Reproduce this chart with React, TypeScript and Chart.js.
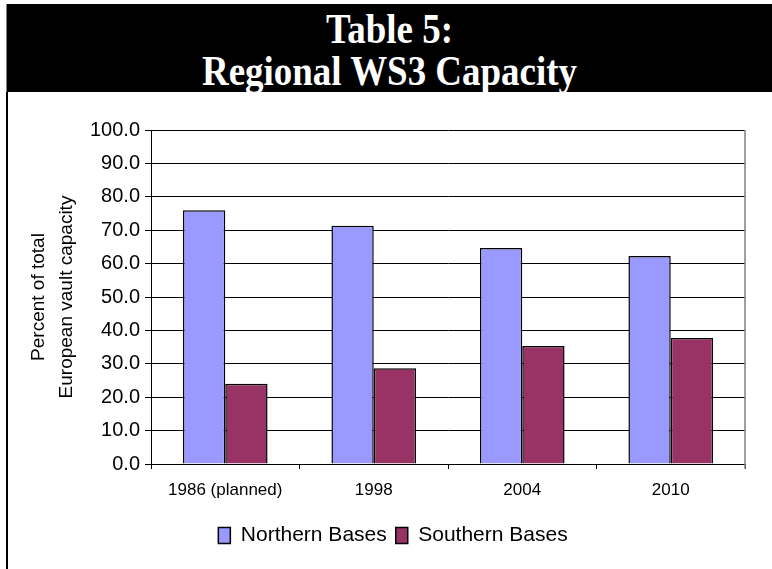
import React, { useEffect, useRef } from "react";
import { Chart, registerables } from "chart.js";

Chart.register(...registerables);

const categories = ["1986 (planned)", "1998", "2004", "2010"];
const northernBases = [76.0, 71.3, 64.7, 62.3];
const southernBases = [24.0, 28.7, 35.3, 37.7];
const seriesNames = ["Northern Bases", "Southern Bases"];
const titleLines = ["Table 5:", "Regional WS3 Capacity"];
const yTitleLines = ["Percent of total", "European vault capacity"];

const rightBorder = {
  id: "rightBorder",
  afterDatasetsDraw(chart: any) {
    const { ctx, chartArea } = chart;
    ctx.save();
    ctx.strokeStyle = "#808080";
    ctx.lineWidth = 1.5;
    ctx.beginPath();
    ctx.moveTo(chartArea.right, chartArea.top);
    ctx.lineTo(chartArea.right, chartArea.bottom + 5);
    ctx.stroke();
    ctx.restore();
  },
};

export default function App() {
  const ref = useRef<HTMLCanvasElement | null>(null);

  useEffect(() => {
    if (!ref.current) return;
    const font = "'Liberation Sans', Arial, sans-serif";
    const chart = new Chart(ref.current, {
      type: "bar",
      data: {
        labels: categories,
        datasets: [
          {
            label: seriesNames[0],
            data: northernBases,
            backgroundColor: "#9999FF",
            borderColor: "#000000",
            borderWidth: 1.5,
            categoryPercentage: 0.57,
            barPercentage: 1.0,
          },
          {
            label: seriesNames[1],
            data: southernBases,
            backgroundColor: "#993366",
            borderColor: "#000000",
            borderWidth: 1.5,
            categoryPercentage: 0.57,
            barPercentage: 1.0,
          },
        ],
      },
      options: {
        animation: false,
        responsive: true,
        maintainAspectRatio: false,
        layout: { padding: { left: 6, right: 0, top: 38, bottom: 13 } },
        plugins: {
          title: { display: false },
          tooltip: { enabled: false },
          legend: {
            position: "bottom",
            labels: {
              color: "#000",
              font: { family: font, size: 21 },
              boxWidth: 12,
              boxHeight: 16,
              padding: 9,
            },
          },
        },
        scales: {
          x: {
            afterFit: (s: any) => {
              s.height = 52;
            },
            grid: {
              display: true,
              drawOnChartArea: false,
              drawTicks: true,
              tickLength: 5,
              tickColor: "#000",
              offset: true,
            },
            border: { display: true, color: "#000", width: 1 },
            ticks: {
              color: "#000",
              font: { family: font, size: 17 },
              padding: 11,
              maxRotation: 0,
            },
          },
          y: {
            min: 0,
            max: 100,
            afterFit: (s: any) => {
              s.width = 137;
            },
            grid: {
              color: "#000",
              lineWidth: 1,
              tickLength: 6,
              tickColor: "#000",
            },
            border: { display: true, color: "#000", width: 1 },
            ticks: {
              stepSize: 10,
              color: "#000",
              font: { family: font, size: 20 },
              padding: 5,
              callback: (v: any) => Number(v).toFixed(1),
            },
            title: {
              display: true,
              text: yTitleLines,
              color: "#000",
              font: { family: font, size: 19, lineHeight: 1.45 },
              padding: { top: 11, bottom: 0 },
            },
          },
          yRight: {
            position: "right",
            min: 0,
            max: 100,
            afterFit: (s: any) => {
              s.width = 27;
            },
            grid: { display: false },
            border: { display: false },
            ticks: { display: false },
          },
        },
      },
      plugins: [rightBorder],
    });
    return () => chart.destroy();
  }, []);

  return (
    <div style={{ position: "fixed", left: 0, top: 0, width: 772, height: 569, background: "#fff", overflow: "hidden" }}>
      <div
        style={{
          position: "absolute",
          left: 6,
          top: 4,
          width: 766,
          height: 88,
          background: "#000",
          borderLeft: "1px solid #808080",
          color: "#fff",
          fontFamily: "'Liberation Serif', 'Times New Roman', serif",
          fontWeight: "bold",
          fontSize: 42,
          lineHeight: "42px",
          textAlign: "center",
          boxSizing: "border-box",
          paddingTop: 4,
        }}
      >
        {titleLines.map((t) => (
          <div key={t} style={{ transform: "scaleX(0.88)", transformOrigin: "center" }}>
            {t}
          </div>
        ))}
      </div>
      <div style={{ position: "absolute", left: 6, top: 92, width: 2, height: 477, background: "#000" }} />
      <div style={{ position: "absolute", left: 8, top: 92, width: 764, height: 477 }}>
        <canvas ref={ref} />
      </div>
    </div>
  );
}
